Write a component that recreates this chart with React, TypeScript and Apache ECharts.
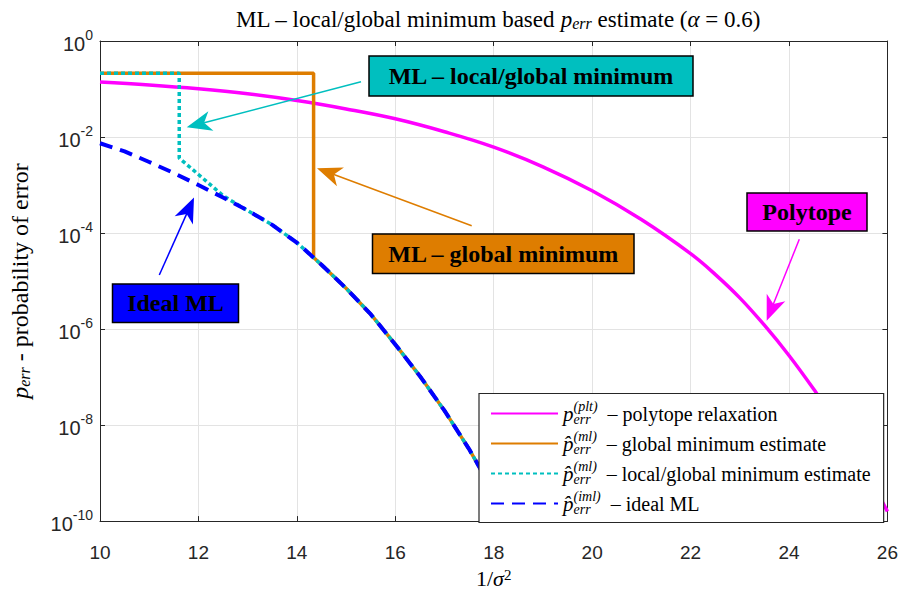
import React, { useEffect, useRef } from 'react';
import * as echarts from 'echarts';

// ---- data (exponents are log10 of p_err) ----
const xPolytope = [10, 11, 12, 13, 14, 15, 16, 17, 18, 19, 20, 21, 22, 22.5, 23, 23.5, 24, 24.5, 25, 25.5, 26];
const expPolytope = [-0.855, -0.915, -0.995, -1.1, -1.24, -1.415, -1.62, -1.89, -2.21, -2.62, -3.12, -3.72, -4.43, -4.86, -5.35, -5.92, -6.55, -7.25, -8.0, -8.85, -9.8];

const xIdeal = [10, 10.5, 11, 11.5, 12, 12.5, 13, 13.5, 14, 14.5, 15, 15.5, 16, 16.5, 17, 17.5, 18, 18.31];
const expIdeal = [-2.13, -2.3, -2.52, -2.75, -3.0, -3.26, -3.53, -3.83, -4.2, -4.66, -5.15, -5.69, -6.32, -6.98, -7.7, -8.5, -9.4, -10];

const xGlobal = [10, 14.34, 14.34, 14.5, 15, 15.5, 16, 16.5, 17, 17.5, 18, 18.31];
const expGlobal = [-0.67, -0.67, -4.51, -4.66, -5.15, -5.69, -6.32, -6.98, -7.7, -8.5, -9.4, -10];

const xLocal = [10, 11.61, 11.61, 12, 12.5, 13, 13.5, 14, 14.5, 15, 15.5, 16, 16.5, 17, 17.5, 18, 18.31];
const expLocal = [-0.67, -0.67, -2.44, -2.78, -3.22, -3.535, -3.83, -4.2, -4.66, -5.15, -5.69, -6.32, -6.98, -7.7, -8.5, -9.4, -10];

const xTicks = { min: 10, max: 26, interval: 2 };
const yDecades = { min: -10, max: 0, interval: 2 };

const toPairs = (xs: number[], es: number[]) => xs.map((x, i) => [x, Math.pow(10, es[i])]);

const SERIF = '"Liberation Serif", "Times New Roman", serif';
const SANS = '"Liberation Sans", Arial, sans-serif';

const C_MAG = '#FF00FF';
const C_ORA = '#DE7D00';
const C_TEAL = '#00BFBF';
const C_BLUE = '#0000FF';

function arrow(x1: number, y1: number, x2: number, y2: number, color: string) {
  const dx = x2 - x1, dy = y2 - y1;
  const len = Math.hypot(dx, dy);
  const ux = dx / len, uy = dy / len;
  const px = -uy, py = ux;
  const L = 25, N = 18, W = 10;
  const bx = x2 - ux * L, by = y2 - uy * L;
  const nx = x2 - ux * N, ny = y2 - uy * N;
  return [
    { type: 'line', z: 100, shape: { x1, y1, x2: nx, y2: ny }, style: { stroke: color, lineWidth: 1.5 } },
    {
      type: 'polygon', z: 100,
      shape: { points: [[x2, y2], [bx + px * W, by + py * W], [nx, ny], [bx - px * W, by - py * W]] },
      style: { fill: color },
    },
  ];
}

function box(x: number, y: number, w: number, h: number, fill: string, text: string) {
  return [
    { type: 'rect', z: 100, shape: { x, y, width: w, height: h }, style: { fill, stroke: '#000', lineWidth: 1.5 } },
    {
      type: 'text', z: 101, x: x + w / 2, y: y + h / 2,
      style: {
        text, fill: '#000', font: `bold 24px ${SERIF}`,
        align: 'center', verticalAlign: 'middle', textAlign: 'center', textVerticalAlign: 'middle',
      },
    },
  ];
}

const legendRich = {
  p: { fontFamily: SERIF, fontStyle: 'italic', fontSize: 21, color: '#000' },
  sub: { fontFamily: SERIF, fontStyle: 'italic', fontSize: 14, color: '#000', verticalAlign: 'bottom', width: 0, padding: [0, 0, 2, 0] },
  sup: { fontFamily: SERIF, fontStyle: 'italic', fontSize: 14, color: '#000', verticalAlign: 'top', padding: [1, 0, 0, 0] },
  t: { fontFamily: SERIF, fontSize: 20, color: '#000' },
};

const legendNames: Record<string, string> = {
  plt: '{p|p}{sub|err}{sup|(plt)}{t|  – polytope relaxation}',
  ml: '{p|p̂}{sub|err}{sup|(ml)}{t|  – global minimum estimate}',
  lgml: '{p|p̂}{sub|err}{sup|(ml)}{t|  – local/global minimum estimate}',
  iml: '{p|p̂}{sub|err}{sup|(iml)}{t|  – ideal ML}',
};

export default function App() {
  const ref = useRef<HTMLDivElement>(null);
  useEffect(() => {
    if (!ref.current) return;
    const chart = echarts.init(ref.current, null, { renderer: 'svg' });
    const axisColor = '#262626';
    const option: any = {
      animation: false,
      backgroundColor: '#fff',
      title: {
        text: '{r|ML – local/global minimum based }{i|p}{s|err}{r| estimate (}{i|α}{r| = 0.6)}',
        left: 493, top: 3, textAlign: 'center',
        textStyle: {
          fontWeight: 'normal',
          rich: {
            r: { fontFamily: SERIF, fontWeight: 'normal', fontSize: 23, color: '#000' },
            i: { fontFamily: SERIF, fontWeight: 'normal', fontStyle: 'italic', fontSize: 23, color: '#000' },
            s: { fontFamily: SERIF, fontWeight: 'normal', fontStyle: 'italic', fontSize: 16, color: '#000', verticalAlign: 'bottom' },
          },
        },
      },
      grid: { left: 97.5, right: 12, top: 41, bottom: 65.5, containLabel: false },
      xAxis: [
        {
          type: 'value', min: xTicks.min, max: xTicks.max, interval: xTicks.interval, position: 'bottom',
          axisLine: { show: true, lineStyle: { color: axisColor, width: 1 } },
          axisTick: { show: true, inside: true, length: 5, lineStyle: { color: axisColor } },
          splitLine: { show: true, lineStyle: { color: '#E3E3E3', width: 1 } },
          axisLabel: { color: axisColor, fontFamily: SANS, fontSize: 19, margin: 22 },
          name: '{r|1/}{i|σ}{s|2}', nameLocation: 'middle', nameGap: 40,
          nameTextStyle: {
            rich: {
              r: { fontFamily: SERIF, fontSize: 22, color: '#000' },
              i: { fontFamily: SERIF, fontStyle: 'italic', fontSize: 22, color: '#000' },
              s: { fontFamily: SERIF, fontSize: 15, color: '#000', verticalAlign: 'top' },
            },
          },
        },
        {
          type: 'value', min: xTicks.min, max: xTicks.max, interval: xTicks.interval, position: 'top',
          axisLine: { show: true, lineStyle: { color: axisColor, width: 1 } },
          axisTick: { show: true, inside: true, length: 5, lineStyle: { color: axisColor } },
          splitLine: { show: false }, axisLabel: { show: false },
        },
      ],
      yAxis: [
        {
          type: 'log', logBase: 10, min: Math.pow(10, yDecades.min), max: Math.pow(10, yDecades.max), interval: yDecades.interval,
          position: 'left',
          axisLine: { show: true, lineStyle: { color: axisColor, width: 1 } },
          axisTick: { show: true, inside: true, length: 5, lineStyle: { color: axisColor } },
          minorTick: { show: false },
          splitLine: { show: true, lineStyle: { color: '#E3E3E3', width: 1 } },
          axisLabel: {
            margin: 7,
            formatter: (v: number) => `{b|10}{s|${Math.round(Math.log10(v))}}`,
            rich: {
              b: { fontFamily: SANS, fontSize: 20, color: axisColor, padding: [6, 0, 0, 0] },
              s: { fontFamily: SANS, fontSize: 14, color: axisColor, verticalAlign: 'top' },
            },
          },
          name: '{i|p}{s|err}{r| - probability of error}', nameLocation: 'middle', nameGap: 68, nameRotate: 90,
          nameTextStyle: {
            rich: {
              r: { fontFamily: SERIF, fontSize: 24, color: '#000' },
              i: { fontFamily: SERIF, fontStyle: 'italic', fontSize: 24, color: '#000' },
              s: { fontFamily: SERIF, fontStyle: 'italic', fontSize: 16, color: '#000', verticalAlign: 'bottom' },
            },
          },
        },
        {
          type: 'log', logBase: 10, min: Math.pow(10, yDecades.min), max: Math.pow(10, yDecades.max), interval: yDecades.interval,
          position: 'right',
          axisLine: { show: true, lineStyle: { color: axisColor, width: 1 } },
          axisTick: { show: true, inside: true, length: 5, lineStyle: { color: axisColor } },
          minorTick: { show: false },
          splitLine: { show: false }, axisLabel: { show: false },
        },
      ],
      legend: {
        orient: 'vertical', left: 479, top: 393.5,
        padding: [5, 13, 4, 11], itemWidth: 67, itemHeight: 10, itemGap: 0,
        backgroundColor: '#fff', borderColor: axisColor, borderWidth: 1.2,
        itemStyle: { opacity: 0, borderWidth: 0 },
        textStyle: { fontFamily: SERIF, fontSize: 20, color: '#000', lineHeight: 30, rich: legendRich },
        formatter: (name: string) => legendNames[name],
        data: ['plt', 'ml', 'lgml', 'iml'],
      },
      series: [
        {
          name: 'plt', type: 'line', data: toPairs(xPolytope, expPolytope), showSymbol: false, symbol: 'none',
          smooth: 0.4, lineStyle: { color: C_MAG, width: 3.5 }, itemStyle: { color: C_MAG },
        },
        {
          name: 'ml', type: 'line', data: toPairs(xGlobal, expGlobal), showSymbol: false, symbol: 'none',
          lineStyle: { color: C_ORA, width: 3.5 }, itemStyle: { color: C_ORA },
        },
        {
          name: 'lgml', type: 'line', data: toPairs(xLocal, expLocal), showSymbol: false, symbol: 'none',
          lineStyle: { color: C_TEAL, width: 3.5, type: [4, 3] }, itemStyle: { color: C_TEAL },
        },
        {
          name: 'iml', type: 'line', data: toPairs(xIdeal, expIdeal), showSymbol: false, symbol: 'none',
          lineStyle: { color: C_BLUE, width: 4, type: [13, 8] }, itemStyle: { color: C_BLUE },
        },
      ],
      graphic: [
        ...arrow(361, 81.7, 186.7, 127.3, C_TEAL),
        ...arrow(471.7, 225.7, 317, 168.3, C_ORA),
        ...arrow(799.3, 239.3, 766.7, 320.7, C_MAG),
        ...arrow(159.3, 275, 194, 197.5, C_BLUE),
        ...box(369, 56, 324, 40, C_TEAL, 'ML – local/global minimum'),
        ...box(372.5, 234, 261.5, 39.5, C_ORA, 'ML – global minimum'),
        ...box(747, 193, 120, 38, C_MAG, 'Polytope'),
        ...box(112.5, 284, 126, 38.5, C_BLUE, 'Ideal ML'),
      ],
    };
    chart.setOption(option);
    return () => chart.dispose();
  }, []);
  return <div ref={ref} style={{ position: 'fixed', left: 0, top: 0, width: 901, height: 594, background: '#fff' }} />;
}
